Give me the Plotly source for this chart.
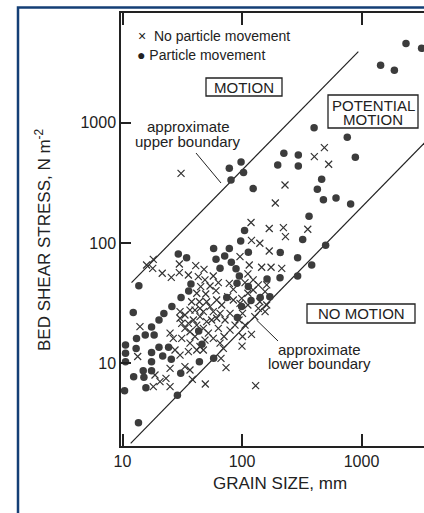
import plotly.graph_objects as go

# ---- data ----
# Particle movement (filled circles): grain size (mm), bed shear stress (N m^-2)
movement_x = [2356, 3185, 1445, 1884, 401, 760, 888, 224, 296, 199, 296, 78.3, 98.2, 103, 80.9,
              124, 464, 427, 480, 612, 811, 364, 322, 501, 383, 292, 292, 208, 209, 105,
              97.5, 113, 78.3, 57.9, 60.6, 71.6, 81.4, 65.5, 89.1, 95.0, 90.8, 113, 162, 119, 142,
              171, 29.3, 34.4, 37.4, 35.8, 30.9, 25.9, 22.2, 20.2, 17.5, 15.5, 18.4, 13.1, 12.3,
              13.7, 10.6, 10.6, 10.6, 10.4, 13.0, 12.4, 14.9, 15.1, 15.7, 17.5, 17.5, 17.5, 20.2,
              21.7, 24.3, 25.6, 30.7, 28.8, 43.4, 46.2, 44.0, 57.9, 91.4, 99.3, 13.6, 74.5]
movement_y = [4539, 4150, 2995, 2723, 908, 755, 515, 556, 539, 445, 436, 417, 471, 386, 334,
              283, 338, 279, 229, 237, 211, 167, 107, 95.7, 65.6, 75.5, 53.2, 51.5, 83.2, 127,
              104, 83.6, 89.8, 89.8, 73.2, 78.0, 69.1, 61.6, 61.2, 53.2, 46.2, 43.4, 50.2, 33.2, 35.3,
              35.8, 81.0, 75.5, 45.6, 39.9, 35.3, 29.6, 26.0, 22.9, 20.0, 17.2, 17.2, 16.1, 26.5,
              44.2, 14.2, 12.1, 10.3, 5.93, 13.3, 7.75, 8.69, 7.65, 6.28, 12.3, 10.3, 8.69, 13.6,
              11.5, 13.6, 10.8, 8.26, 5.42, 18.6, 14.4, 10.3, 11.0, 24.0, 29.6, 3.21, 35.2]

# No particle movement (crosses)
no_movement_x = [30.9, 403, 489, 531, 229, 190, 119, 169, 222, 231, 355, 120, 141, 169, 96.2,
                 115, 146, 175, 215, 15.9, 18.1, 17.9, 21.5, 25.6, 29.9, 29.9, 35.6, 41.0, 48.1,
                 43.1, 49.0, 57.5, 63.4, 54.0, 45.1, 41.8, 49.7, 60.6, 78.3, 84.6, 75.9, 67.6, 84.6,
                 106, 112, 124, 137, 161, 156, 141, 161, 137, 156, 112, 99.4, 101, 94.4, 87.4, 79.4,
                 70.7, 65.5, 57.5, 52.3, 47.5, 40.4, 36.7, 33.3, 31.3, 30.3, 30.3, 33.3, 36.7, 37.9,
                 40.4, 44.5, 44.0, 47.5, 50.6, 54.0, 57.5, 61.4, 63.4, 65.5, 72.1, 79.4, 55.7, 50.6,
                 44.5, 39.2, 35.6, 41.8, 49.0, 44.5, 41.8, 35.6, 30.3, 27.5, 25.0, 26.6, 31.3, 36.7,
                 47.5, 69.8, 66.7, 73.5, 101, 120, 100, 14.0, 13.4, 25.0, 18.7, 20.6, 23.1, 25.0,
                 18.1, 33.3, 36.7, 38.4, 49.3, 130, 124, 96.2, 112, 128, 106, 61.4]
no_movement_y = [379, 522, 620, 451, 303, 215, 148, 132, 134, 113, 130, 105, 99.4, 85.8, 77.0,
                 65.6, 62.8, 62.8, 61.6, 65.6, 73.1, 61.6, 56.0, 51.8, 66.9, 56.7, 54.2, 64.8, 60.4,
                 52.5, 49.3, 53.2, 46.8, 43.9, 43.4, 38.2, 37.7, 40.2, 46.2, 41.2, 35.8, 30.5, 33.6,
                 46.8, 55.3, 49.3, 44.8, 44.8, 39.4, 32.5, 30.5, 28.6, 26.9, 38.2, 34.7, 26.0, 22.9,
                 20.8, 18.9, 16.7, 14.7, 16.1, 17.8, 19.5, 16.7, 18.3, 19.5, 21.5, 26.9, 23.7, 25.2,
                 27.7, 32.5, 27.7, 28.6, 32.5, 26.9, 32.5, 29.6, 26.9, 23.7, 19.5, 26.0, 22.9, 26.0,
                 22.9, 22.2, 24.4, 22.9, 21.5, 20.8, 15.6, 13.8, 12.9, 12.5, 11.7, 12.9, 17.8, 16.1,
                 16.1, 14.7, 12.9, 13.3, 11.0, 9.20, 16.7, 17.4, 13.9, 20.2, 11.4, 9.09, 8.00, 7.04,
                 7.50, 6.40, 6.40, 9.38, 8.80, 7.36, 6.73, 6.52, 40.7, 31.5, 30.5, 24.4, 20.8, 33.6]

# approximate boundaries (two end points each)
upper_boundary_x = [11.9, 941]
upper_boundary_y = [46.8, 3890]
lower_boundary_x = [11.7, 5000]
lower_boundary_y = [2.16, 1016]

tick_vals = [10, 100, 1000]
tick_text = ["10", "100", "1000"]

FONT = "Arial, Liberation Sans, Helvetica, sans-serif"
INK = "#222222"

fig = go.Figure()
fig.add_trace(go.Scatter(x=upper_boundary_x, y=upper_boundary_y, mode="lines",
                         line=dict(color=INK, width=1.2), showlegend=False, hoverinfo="skip"))
fig.add_trace(go.Scatter(x=lower_boundary_x, y=lower_boundary_y, mode="lines",
                         line=dict(color=INK, width=1.2), showlegend=False, hoverinfo="skip"))
fig.add_trace(go.Scatter(x=no_movement_x, y=no_movement_y, mode="markers", name="No particle movement",
                         marker=dict(symbol="x-thin", size=7, line=dict(color="#333333", width=1.2)),
                         showlegend=False))
fig.add_trace(go.Scatter(x=movement_x, y=movement_y, mode="markers", name="Particle movement",
                         marker=dict(symbol="circle", size=7.5, color="#3c3c3c"),
                         showlegend=False))

L, T, W, H = 121, 13, 303, 433


def px(xp):
    return (xp - L) / W


def py(yp):
    return (T + H - yp) / H


shapes = []
# outer blue frame
shapes.append(dict(type="rect", xref="paper", yref="paper", x0=px(18), x1=px(440), y0=py(530), y1=py(7.5),
                   line=dict(color="#143f76", width=2.5), fillcolor="rgba(0,0,0,0)", layer="above"))
# label boxes
for (x0, x1, y0, y1) in [(206, 282, 78, 96), (328, 418, 95, 128), (307, 415, 304, 323)]:
    shapes.append(dict(type="rect", xref="paper", yref="paper", x0=px(x0), x1=px(x1), y0=py(y1), y1=py(y0),
                       line=dict(color=INK, width=1.3), fillcolor="white", layer="above"))
# leader lines
shapes.append(dict(type="line", xref="paper", yref="paper", x0=px(196), y0=py(153), x1=px(221), y1=py(183),
                   line=dict(color=INK, width=1)))
shapes.append(dict(type="line", xref="paper", yref="paper", x0=px(256.5), y0=py(320), x1=px(278), y1=py(341),
                   line=dict(color=INK, width=1)))

ann = []


def text(t, x, y, size=15, xanchor="center", angle=0):
    ann.append(dict(text=t, x=px(x), y=py(y), xref="paper", yref="paper", showarrow=False,
                    xanchor=xanchor, yanchor="middle", textangle=angle, borderpad=0,
                    font=dict(family=FONT, size=size, color=INK)))


text("×  No particle movement", 137, 36, size=14, xanchor="left")
text("<span style='font-size:14px'>●</span> Particle movement", 136, 55, size=14, xanchor="left")
text("MOTION", 244, 87)
text("POTENTIAL", 373, 105)
text("MOTION", 373, 119.5)
text("NO MOTION", 361, 313.5)
text("approximate", 188, 126)
text("upper boundary", 188, 141)
text("approximate", 319, 349)
text("lower boundary", 319, 363.5)
text("GRAIN SIZE, mm", 280, 483, size=17)
text("BED SHEAR STRESS, N m<sup>-2</sup>", 43, 240, size=17, angle=-90)

fig.update_layout(
    width=424, height=513,
    margin=dict(l=L, r=0, t=T, b=513 - T - H, pad=0),
    paper_bgcolor="white", plot_bgcolor="white",
    shapes=shapes, annotations=ann,
    xaxis=dict(type="log", range=[0.9874, 3.523], tickvals=tick_vals, ticktext=tick_text,
               ticks="inside", ticklen=12, tickwidth=1.5, tickcolor=INK,
               showline=True, linewidth=1.5, linecolor=INK, mirror="ticks",
               showgrid=False, zeroline=False,
               tickfont=dict(family=FONT, size=16, color=INK)),
    yaxis=dict(type="log", range=[0.313, 3.911], tickvals=tick_vals, ticktext=tick_text,
               ticks="inside", ticklen=10, tickwidth=1.5, tickcolor=INK,
               showline=True, linewidth=1.5, linecolor=INK, mirror=False,
               showgrid=False, zeroline=False,
               tickfont=dict(family=FONT, size=16, color=INK)),
)

fig.write_html("out.html")
